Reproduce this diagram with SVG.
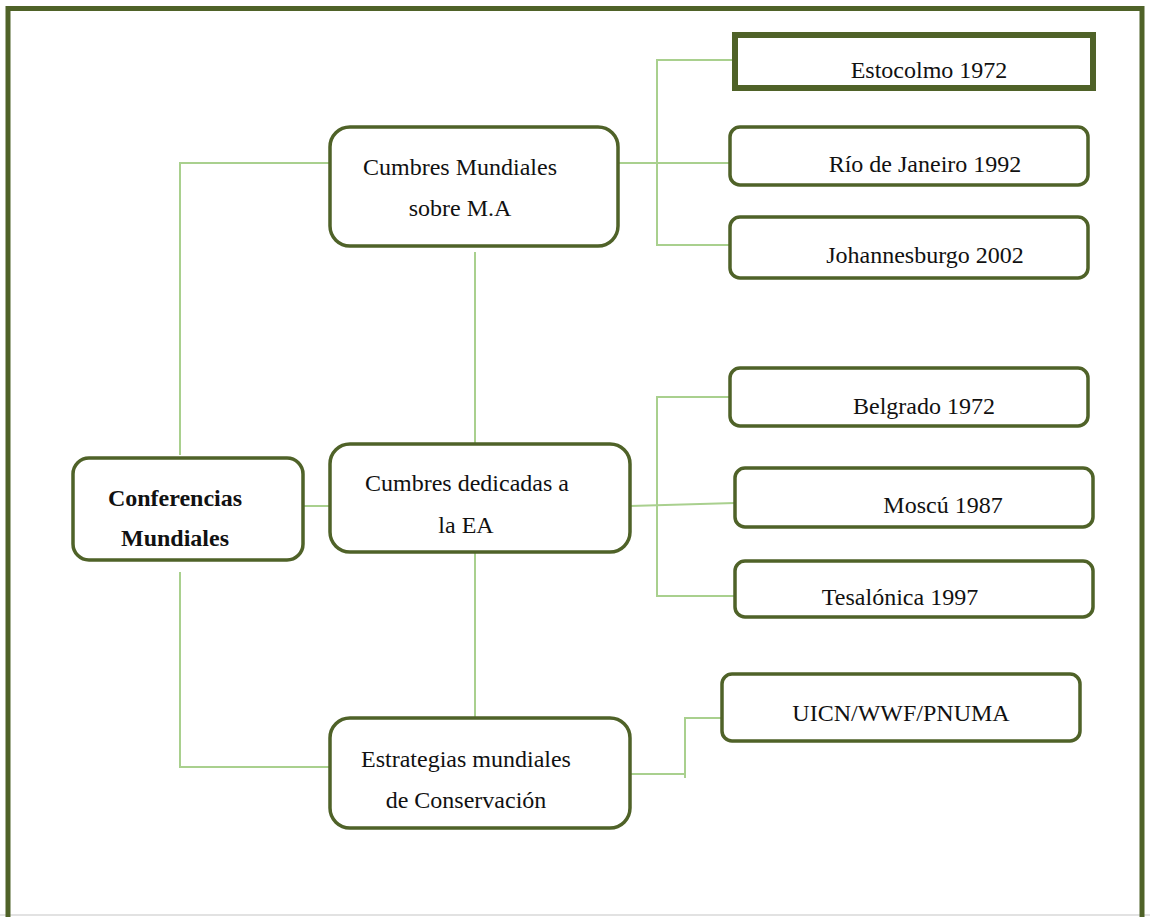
<svg xmlns="http://www.w3.org/2000/svg" width="1150" height="917" viewBox="0 0 1150 917">
<style>
.node{fill:#fff;stroke:#4f6228;stroke-width:3.5}
.conn{fill:none;stroke:#a9d08e;stroke-width:2}
text{font-family:'Liberation Serif','Times New Roman',Tinos,'DejaVu Serif',serif;font-size:24px;fill:#111;text-anchor:middle}
.b{font-weight:bold}
</style>
<rect width="1150" height="917" fill="#fff"/>
<line x1="0" y1="915" x2="1150" y2="915" stroke="#e2e2e2" stroke-width="2"/>
<path d="M8,917 V8.5 H1142 V917" fill="none" stroke="#4f6228" stroke-width="5"/>
<g id="connectors">
<path class="conn" d="M330,163 H180 V455"/>
<path class="conn" d="M180,572 V767 H330"/>
<path class="conn" d="M303,506 H330"/>
<path class="conn" d="M475,252 V455"/>
<path class="conn" d="M475,552 V718"/>
<path class="conn" d="M618,163 H730"/>
<path class="conn" d="M735,60 H657 V245 H730"/>
<path class="conn" d="M630,506 L735,503"/>
<path class="conn" d="M730,397 H657 V596 H735"/>
<path class="conn" d="M630,774 H685 V778 M685,778 V718 H722"/>
</g>
<g id="conferencias">
<rect class="node" x="73" y="458" width="230" height="102" rx="16"/>
<text class="b" x="175" y="506" font-family="Liberation Serif, serif">Conferencias</text>
<text class="b" x="175" y="546" font-family="Liberation Serif, serif">Mundiales</text>
</g>
<g id="cumbres-ma">
<rect class="node" x="330" y="127" width="288" height="119" rx="20"/>
<text x="460" y="175" font-family="Liberation Serif, serif">Cumbres Mundiales</text>
<text x="460" y="216" font-family="Liberation Serif, serif">sobre M.A</text>
</g>
<g id="cumbres-ea">
<rect class="node" x="330" y="444" width="300" height="108" rx="20"/>
<text x="467" y="491" font-family="Liberation Serif, serif">Cumbres dedicadas a</text>
<text x="466" y="533" font-family="Liberation Serif, serif">la EA</text>
</g>
<g id="estrategias">
<rect class="node" x="330" y="718" width="300" height="110" rx="20"/>
<text x="466" y="767" font-family="Liberation Serif, serif">Estrategias mundiales</text>
<text x="466" y="808" font-family="Liberation Serif, serif">de Conservación</text>
</g>
<g id="estocolmo">
<rect x="735" y="35" width="358" height="53" fill="#fff" stroke="#4f6228" stroke-width="6"/>
<text x="929" y="78" font-family="Liberation Serif, serif">Estocolmo 1972</text>
</g>
<g id="rio">
<rect class="node" x="730" y="127" width="358" height="58" rx="10"/>
<text x="925" y="172" font-family="Liberation Serif, serif">Río de Janeiro 1992</text>
</g>
<g id="johannesburgo">
<rect class="node" x="730" y="217" width="358" height="61" rx="10"/>
<text x="925" y="263" font-family="Liberation Serif, serif">Johannesburgo 2002</text>
</g>
<g id="belgrado">
<rect class="node" x="730" y="368" width="358" height="58" rx="10"/>
<text x="924" y="414" font-family="Liberation Serif, serif">Belgrado 1972</text>
</g>
<g id="moscu">
<rect class="node" x="735" y="468" width="358" height="59" rx="10"/>
<text x="943" y="513" font-family="Liberation Serif, serif">Moscú 1987</text>
</g>
<g id="tesalonica">
<rect class="node" x="735" y="561" width="358" height="56" rx="10"/>
<text x="900" y="605" font-family="Liberation Serif, serif">Tesalónica 1997</text>
</g>
<g id="uicn">
<rect class="node" x="722" y="674" width="358" height="67" rx="10"/>
<text x="901" y="721" font-family="Liberation Serif, serif">UICN/WWF/PNUMA</text>
</g>
</svg>
